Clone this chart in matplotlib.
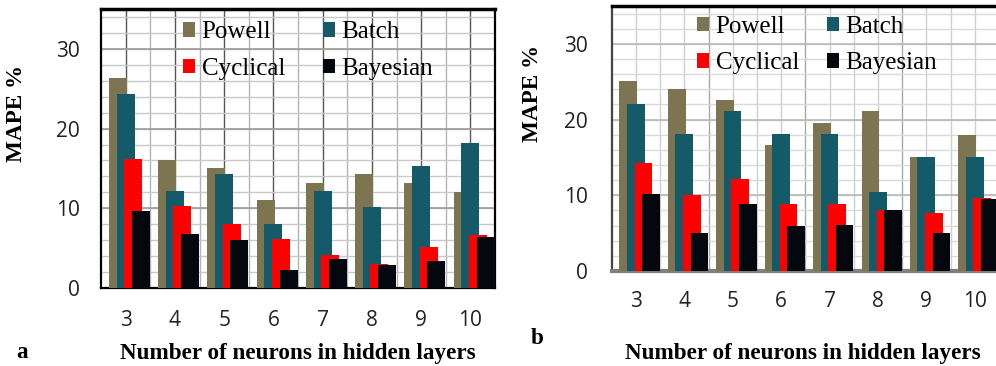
import numpy as np
import matplotlib
matplotlib.use("Agg")
import matplotlib.pyplot as plt
from matplotlib.patches import Patch

# Number of neurons in hidden layers
neurons = ["3", "4", "5", "6", "7", "8", "9", "10"]
methods = ["Powell", "Batch", "Cyclical", "Bayesian"]

# Panel a: MAPE % per training method
powell_a = [26.3, 16.1, 15.1, 11.1, 13.2, 14.3, 13.2, 12.1]
batch_a = [24.3, 12.2, 14.3, 8.0, 12.2, 10.2, 15.3, 18.2]
cyclical_a = [16.2, 10.3, 8.0, 6.1, 4.1, 3.0, 5.1, 6.6]
bayesian_a = [9.7, 6.8, 6.0, 2.3, 3.7, 2.9, 3.4, 6.4]

# Panel b: MAPE % per training method
powell_b = [25.1, 24.1, 22.6, 16.6, 19.5, 21.1, 15.1, 18.0]
batch_b = [22.1, 18.1, 21.1, 18.1, 18.1, 10.5, 15.1, 15.1]
cyclical_b = [14.2, 10.1, 12.1, 8.9, 8.9, 8.0, 7.6, 9.7]
bayesian_b = [10.2, 5.0, 8.9, 6.0, 6.1, 8.0, 5.0, 9.5]

colors = ["#7d7451", "#145a69", "#ff0000", "#05070f"]

SERIF = ["Liberation Serif", "DejaVu Serif"]
SANS = ["Open Sans", "DejaVu Sans"]

fig = plt.figure(figsize=(9.96, 3.66), dpi=100)


def draw_panel(ax, series, center_col, bound_col, hmaj_col, hmin_col, dark_bounds=()):
    x = np.arange(len(neurons))
    width = 0.365
    step = 0.156
    start = -0.34
    for k, (vals, col) in enumerate(zip(series, colors)):
        ax.bar(x + start + k * step, vals, width=width, align="edge",
               color=col, linewidth=0, zorder=3)
    ax.set_xlim(-0.5, len(neurons) - 0.5)
    ax.set_ylim(0, 35)
    ax.set_xticks(x)
    ax.set_xticklabels(neurons)
    ax.set_yticks([0, 10, 20, 30])
    # grid lines
    for xi in x:
        ax.axvline(xi, color=center_col, lw=1.0, zorder=1)
    for xb in x[:-1] + 0.5:
        c = "#a8a8a8" if xb in dark_bounds else bound_col
        ax.axvline(xb, color=c, lw=1.0, zorder=1)
    for yv in np.arange(2, 35, 2):
        ax.axhline(yv, color=hmin_col, lw=1.0, zorder=1)
    for yv in [10, 20, 30]:
        ax.axhline(yv, color=hmaj_col, lw=1.2, zorder=1.5)
    ax.tick_params(length=0)
    for lab in ax.get_xticklabels() + ax.get_yticklabels():
        lab.set_family(SANS)
        lab.set_fontsize(15)
        lab.set_color("#222222")


# ---- panel a ----
axa = fig.add_axes([101 / 996, 78 / 366, 394 / 996, 279 / 366])
draw_panel(axa, [powell_a, batch_a, cyclical_a, bayesian_a],
           center_col="#555555", bound_col="#b4b4b4",
           hmaj_col="#9a9a9a", hmin_col="#c8c8c8")
for s in axa.spines.values():
    s.set_color("black")
    s.set_linewidth(1.6)
axa.spines["top"].set_linewidth(2.5)
axa.tick_params(axis="y", pad=15)
axa.tick_params(axis="x", pad=16)

# ---- panel b ----
axb = fig.add_axes([611.7 / 996, 95 / 366, 387.3 / 996, 265 / 366])
draw_panel(axb, [powell_b, batch_b, cyclical_b, bayesian_b],
           center_col="#cfcfcf", bound_col="#cfcfcf",
           hmaj_col="#b8b8b8", hmin_col="#dadada",
           dark_bounds=(1.5, 3.5, 5.5))
axb.spines["top"].set_color("black")
axb.spines["top"].set_linewidth(2.5)
axb.spines["left"].set_color("#444444")
axb.spines["left"].set_linewidth(1.6)
axb.spines["bottom"].set_color("#808080")
axb.spines["bottom"].set_linewidth(3)
axb.spines["right"].set_visible(False)
axb.tick_params(axis="y", pad=17)
axb.tick_params(axis="x", pad=14.5)

handles = [Patch(facecolor=c, edgecolor="none") for c in colors]
leg_kw = dict(ncol=2, frameon=False, handlelength=0.5, handleheight=0.5,
              handletextpad=0.25, labelspacing=0.57, borderpad=0, borderaxespad=0,
              prop={"family": SERIF, "size": 18})
# legend order: Powell, Cyclical in the first column; Batch, Bayesian in the second
order = [0, 2, 1, 3]
la = axa.legend([handles[i] for i in order], [methods[i] for i in order],
                loc="upper left", bbox_to_anchor=(0.208, 0.956),
                columnspacing=1.5, **leg_kw)
lb = axb.legend([handles[i] for i in order], [methods[i] for i in order],
                loc="upper left", bbox_to_anchor=(0.22, 0.962),
                columnspacing=1.1, **leg_kw)

# axis titles
lab_kw = dict(family=SERIF, fontweight="bold", fontsize=16.7)
fig.text(17 / 996, 1 - 113 / 366, "MAPE %", rotation=90, ha="center", va="center", **lab_kw)
fig.text(533 / 996, 1 - 94 / 366, "MAPE %", rotation=90, ha="center", va="center", **lab_kw)
fig.text(298 / 996, 1 - 353 / 366, "Number of neurons in hidden layers",
         ha="center", va="center", **lab_kw)
fig.text(803 / 996, 1 - 353 / 366, "Number of neurons in hidden layers",
         ha="center", va="center", **lab_kw)
fig.text(22 / 996, 1 - 353 / 366, "a", ha="center", va="center", **lab_kw)
fig.text(537 / 996, 1 - 338 / 366, "b", ha="center", va="center", **lab_kw)

fig.savefig("out.png", dpi=100, facecolor="white")
